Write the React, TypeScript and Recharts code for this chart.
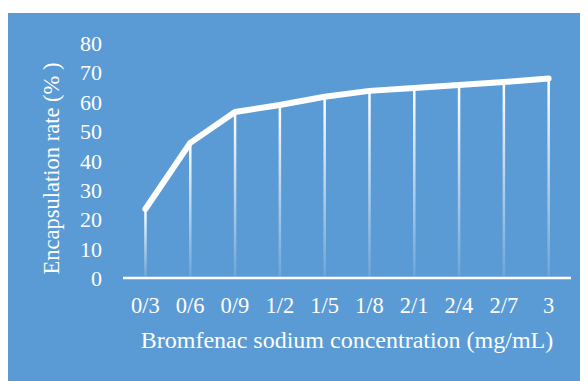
import React from 'react';
import { ComposedChart, Bar, Line, XAxis, YAxis } from 'recharts';

// Bromfenac sodium concentration (mg/mL) and the measured encapsulation rate (%)
const concentrations = ['0/3', '0/6', '0/9', '1/2', '1/5', '1/8', '2/1', '2/4', '2/7', '3'];
const encapsulationRates = [23.5, 46, 56.5, 58.9, 61.7, 63.7, 64.7, 65.7, 66.7, 67.9];
const rateTicks = [0, 10, 20, 30, 40, 50, 60, 70, 80];

const data = concentrations.map((c, i) => ({ c, rate: encapsulationRates[i] }));

const textStyle = { fontFamily: 'Liberation Serif, Times New Roman, serif' };
const BG = '#5B9BD5';

// vertical drop line from each point down to the axis, fading towards the bottom
const DropLine = (props: any) => {
  const { x, y, width, height } = props;
  if (height == null || height <= 0) return null;
  const w = 2.5;
  return <rect x={x + width / 2 - w / 2} y={y} width={w} height={height} fill="url(#dropFade)" />;
};

const XTick = (props: any) => {
  const { x, y, payload } = props;
  return (
    <text x={x} y={y + 35} textAnchor="middle" fill="#fff" fontSize={22.5} style={textStyle}>
      {payload.value}
    </text>
  );
};

const YTick = (props: any) => {
  const { x, y, payload } = props;
  return (
    <text x={x} y={y + 8} textAnchor="end" fill="#fff" fontSize={22} style={textStyle}>
      {payload.value}
    </text>
  );
};

const XTitle = (props: any) => {
  const vb = props.viewBox;
  return (
    <text x={vb.x + vb.width / 2} y={vb.y + 70} textAnchor="middle" fill="#fff" fontSize={24} style={textStyle}>
      Bromfenac sodium concentration (mg/mL)
    </text>
  );
};

const YTitle = (props: any) => {
  const vb = props.viewBox;
  const cx = 51;
  const cy = vb.y + vb.height / 2 + 8;
  return (
    <text
      x={cx}
      y={cy}
      transform={`rotate(-90, ${cx}, ${cy})`}
      textAnchor="middle"
      fill="#fff"
      fontSize={22.5}
      style={textStyle}
    >
      Encapsulation rate (% )
    </text>
  );
};

export default function App() {
  return (
    <div style={{ marginTop: 5, width: 580, height: 368, background: BG }}>
      <ComposedChart width={580} height={368} data={data} margin={{ top: 30, right: 17, left: 0, bottom: 0 }}>
        <defs>
          <linearGradient id="dropFade" x1="0" y1="0" x2="0" y2="1">
            <stop offset="0%" stopColor="#fff" stopOpacity={1} />
            <stop offset="100%" stopColor="#fff" stopOpacity={0.1} />
          </linearGradient>
        </defs>
        <XAxis
          dataKey="c"
          height={103}
          tickSize={0}
          tickMargin={0}
          tickLine={false}
          axisLine={{ stroke: '#fff', strokeWidth: 2.5 }}
          tick={<XTick />}
          interval={0}
          label={<XTitle />}
        />
        <YAxis
          width={115}
          domain={[0, 80]}
          ticks={rateTicks}
          tickSize={0}
          tickMargin={21}
          axisLine={false}
          tickLine={false}
          tick={<YTick />}
          label={<YTitle />}
        />
        <Bar dataKey="rate" shape={<DropLine />} isAnimationActive={false} />
        <Line
          dataKey="rate"
          type="linear"
          stroke="#fff"
          strokeWidth={6}
          strokeLinecap="round"
          strokeLinejoin="round"
          dot={false}
          activeDot={false}
          isAnimationActive={false}
        />
      </ComposedChart>
    </div>
  );
}
